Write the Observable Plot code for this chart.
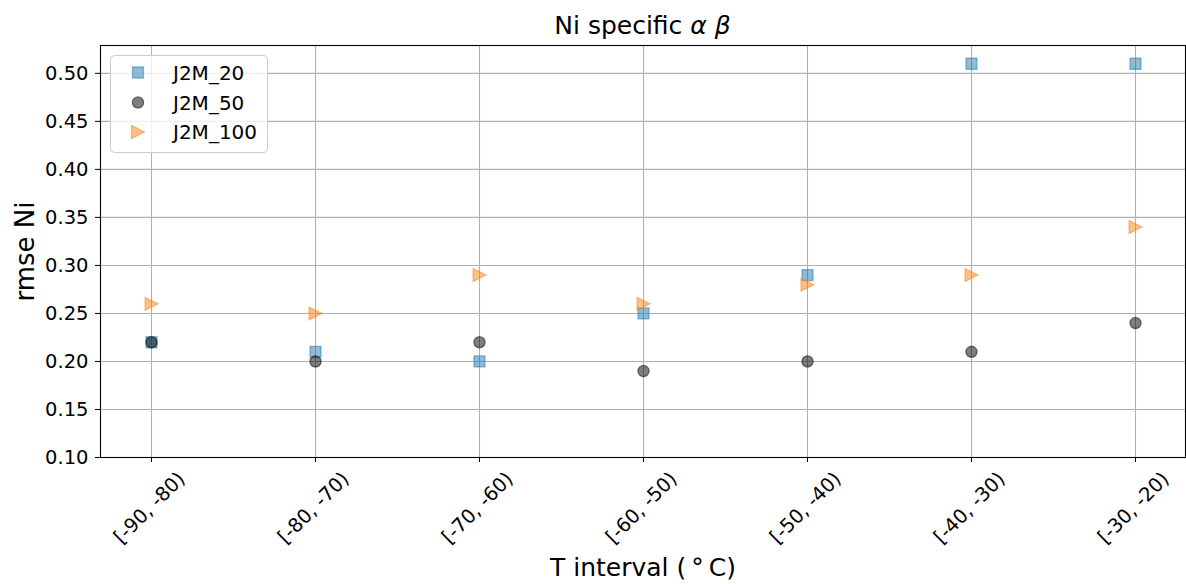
<!DOCTYPE html>
<html>
<head>
<meta charset="utf-8">
<script src="https://cdn.jsdelivr.net/npm/d3@7"></script>
<script src="https://cdn.jsdelivr.net/npm/@observablehq/plot@0.6"></script>
<style>
  html, body { margin: 0; padding: 0; background: #fff; }
  #chart svg { display: block; }
</style>
</head>
<body>
<div id="chart"></div>
<script>
const categories = ["[-90, -80)", "[-80, -70)", "[-70, -60)", "[-60, -50)", "[-50, -40)", "[-40, -30)", "[-30, -20)"];
const seriesNames = ["J2M_20", "J2M_50", "J2M_100"];
const j2m20 = [0.22, 0.21, 0.20, 0.25, 0.29, 0.51, 0.51];
const j2m50 = [0.22, 0.20, 0.22, 0.19, 0.20, 0.21, 0.24];
const j2m100 = [0.26, 0.25, 0.29, 0.26, 0.28, 0.29, 0.34];
const yTicks = [0.10, 0.15, 0.20, 0.25, 0.30, 0.35, 0.40, 0.45, 0.50];
const colors = ["#1f77b4", "#000000", "#ff7f0e"];

const FONT = "DejaVu Sans, sans-serif";
const triangleRight = {
  draw(ctx, size) {
    const h = Math.sqrt(size / Math.PI);
    ctx.moveTo(h, 0);
    ctx.lineTo(-h, h);
    ctx.lineTo(-h, -h);
    ctx.closePath();
  }
};
const symbols = ["square", "circle", triangleRight];
const radii = [6.2, 5.6, 6.4];
const seriesValues = [j2m20, j2m50, j2m100];

const rows = (vals) => categories.map((c, i) => ({cat: c, v: vals[i]}));

const dotMarks = seriesValues.map((vals, k) =>
  Plot.dot(rows(vals), {
    x: "cat", y: "v", symbol: () => symbols[k], r: radii[k],
    fill: colors[k], fillOpacity: 0.5, stroke: colors[k], strokeOpacity: 0.5, strokeWidth: 1.3
  })
);

const chart = Plot.plot({
  width: 1186,
  height: 584,
  marginTop: 45,
  marginRight: 1,
  marginBottom: 127,
  marginLeft: 100,
  style: {fontFamily: FONT, fontSize: "19.5px", color: "#000", background: "#fff"},
  x: {type: "point", domain: categories, padding: 0.3, align: 0.5},
  y: {domain: [0.1, 0.529]},
  symbol: {type: "identity"},
  marks: [
    Plot.gridX(categories, {stroke: "#b0b0b0", strokeOpacity: 1, strokeWidth: 1.1}),
    Plot.gridY(yTicks, {stroke: "#b0b0b0", strokeOpacity: 1, strokeWidth: 1.1}),
    Plot.axisY(yTicks, {tickFormat: d3.format(".2f"), tickSize: 5, tickPadding: 7, label: null, fontSize: 19.5, stroke: "#000"}),
    Plot.axisX(categories, {tickFormat: () => "", tickSize: 5, label: null, stroke: "#000"}),
    Plot.text(categories, {x: d => d, frameAnchor: "bottom", dx: -2, dy: 50.5, rotate: -45, textAnchor: "middle", lineAnchor: "middle", fontSize: 19.5, fill: "#000"}),
    Plot.text(["rmse Ni"], {frameAnchor: "left", dx: -75, rotate: -90, textAnchor: "middle", lineAnchor: "middle", fontSize: 26, fill: "#000"}),
    Plot.text(["T interval (\u2009°\u2009C)"], {frameAnchor: "bottom", dy: 110, textAnchor: "middle", lineAnchor: "middle", fontSize: 25, fill: "#000"}),
    ...dotMarks,
    Plot.frame({stroke: "#000", strokeWidth: 1.1})
  ]
});

const svg = d3.select(chart);
// Title
const title = svg.append("text")
  .attr("x", 642.5).attr("y", 25)
  .attr("text-anchor", "middle").attr("dominant-baseline", "central")
  .attr("font-family", FONT).attr("font-size", 25).attr("fill", "#000");
title.append("tspan").text("Ni specific ");
title.append("tspan").attr("font-style", "italic").text("α");
title.append("tspan").text(" ");
title.append("tspan").attr("font-style", "italic").text("β");

// Legend
const lg = svg.append("g");
lg.append("rect").attr("x", 110.5).attr("y", 55.5).attr("width", 157).attr("height", 97).attr("rx", 4)
  .attr("fill", "#fff").attr("fill-opacity", 0.8).attr("stroke", "#cccccc").attr("stroke-width", 1);
const legendY = [72.5, 102.5, 132];
seriesNames.forEach((name, k) => {
  const sym = typeof symbols[k] === "string" ? (symbols[k] === "square" ? d3.symbolSquare : d3.symbolCircle) : symbols[k];
  lg.append("path")
    .attr("d", d3.symbol(sym, Math.PI * radii[k] * radii[k])())
    .attr("transform", `translate(138,${legendY[k]})`)
    .attr("fill", colors[k]).attr("fill-opacity", 0.5)
    .attr("stroke", colors[k]).attr("stroke-opacity", 0.5).attr("stroke-width", 1.3);
  lg.append("text").attr("x", 173).attr("y", legendY[k])
    .attr("text-anchor", "start")
    .attr("dominant-baseline", "central")
    .attr("font-family", FONT).attr("font-size", 20).attr("fill", "#000")
    .text(name);
});

document.getElementById("chart").appendChild(chart);
</script>
</body>
</html>
